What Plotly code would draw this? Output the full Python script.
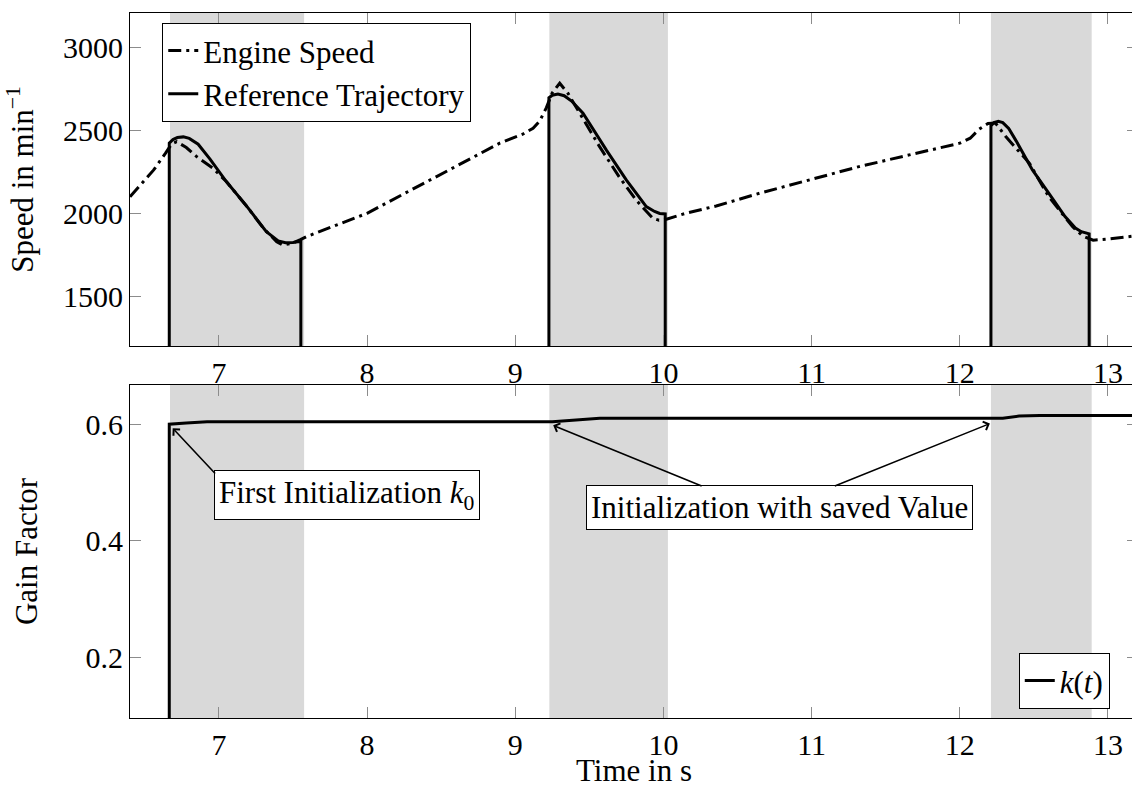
import plotly.graph_objects as go

# ---------------- data ----------------
engine_t = [6.40, 6.47, 6.56, 6.64, 6.68, 6.715, 6.78, 6.85, 6.96, 7.05, 7.19, 7.30, 7.39, 7.43,
            7.50, 7.55, 7.59, 8.00, 8.445, 8.895, 9.05, 9.12, 9.165, 9.21, 9.25, 9.30, 9.355,
            9.434, 9.569, 9.70, 9.815, 9.928, 9.97, 10.02, 10.15, 10.356, 10.65, 11.32, 12.0,
            12.07, 12.13, 12.19, 12.24, 12.31, 12.47, 12.60, 12.76, 12.83, 12.90, 13.01, 13.25]
engine_speed = [2104, 2175, 2265, 2366, 2420, 2435, 2400, 2345, 2275, 2195, 2044, 1914, 1833, 1813,
                1825, 1845, 1863, 2004, 2215, 2426, 2480, 2516, 2560, 2640, 2730, 2787, 2727,
                2607, 2405, 2225, 2084, 1974, 1962, 1968, 2004, 2048, 2125, 2285, 2426,
                2456, 2510, 2545, 2548, 2466, 2305, 2104, 1924, 1867, 1842, 1850, 1875]

ref_t = [6.665, 6.665, 6.69, 6.72, 6.76, 6.80, 6.86, 6.94, 7.05, 7.19, 7.32, 7.40, 7.45, 7.50,
         7.553, 7.553, None,
         9.227, 9.227, 9.25, 9.288, 9.33, 9.38, 9.457, 9.614, 9.749, 9.884, 9.94, 9.975, 10.012,
         10.012, None,
         12.21, 12.21, 12.23, 12.26, 12.29, 12.33, 12.38, 12.49, 12.60, 12.71, 12.78, 12.82,
         12.873, 12.873]
ref_speed = [0, 2426, 2448, 2460, 2464, 2455, 2420, 2330, 2195, 2044, 1893, 1838, 1827, 1828,
             1835, 0, None,
             0, 2700, 2715, 2722, 2712, 2680, 2607, 2386, 2205, 2044, 2015, 2003, 2000,
             0, None,
             0, 2530, 2550, 2558, 2550, 2515, 2440, 2265, 2125, 1984, 1915, 1893,
             1880, 0]

gain_t = [6.665, 6.665, 6.78, 6.92, 9.25, 9.40, 9.57, 12.29, 12.40, 12.54, 13.25]
gain_k = [0.0, 0.600, 0.602, 0.604, 0.604, 0.607, 0.610, 0.610, 0.614, 0.615, 0.615]

bands = [(6.67, 7.575), (9.23, 10.03), (12.21, 12.89)]

x_ticks = [7, 8, 9, 10, 11, 12, 13]
speed_ticks = [1500, 2000, 2500, 3000]
gain_ticks = [0.2, 0.4, 0.6]

# ---------------- style ----------------
FONT = "Liberation Serif"
FS = 30      # tick labels
FT = 31      # titles, legend, annotations
BAND = "#d9d9d9"

fig = go.Figure()
fig.add_trace(go.Scatter(x=engine_t, y=engine_speed, mode="lines", name="Engine Speed",
                         line=dict(color="black", width=3, dash="13px,5px,3px,5px"),
                         xaxis="x", yaxis="y", legend="legend"))
fig.add_trace(go.Scatter(x=ref_t, y=ref_speed, mode="lines", name="Reference Trajectory",
                         line=dict(color="black", width=3),
                         connectgaps=False, xaxis="x", yaxis="y", legend="legend"))
fig.add_trace(go.Scatter(x=gain_t, y=gain_k, mode="lines", name="<i>k</i>(<i>t</i>)",
                         line=dict(color="black", width=3),
                         xaxis="x2", yaxis="y2", legend="legend2"))

shapes = []
for a, b in bands:
    for xr_, yr_ in (("x", "y domain"), ("x2", "y2 domain")):
        shapes.append(dict(type="rect", xref=xr_, yref=yr_, x0=a, x1=b, y0=0, y1=1,
                           fillcolor=BAND, line=dict(width=0), layer="below"))

axis_common = dict(showline=True, linecolor="black", linewidth=1.2, mirror="ticks",
                   ticks="inside", ticklen=11, tickcolor="#8c8c8c", tickwidth=1,
                   showgrid=False, zeroline=False, automargin=False,
                   tickfont=dict(family=FONT, size=FS, color="black"))

xr = [6.4, 13.2025]
fig.update_layout(
    width=1138, height=789, autosize=False,
    margin=dict(l=130, r=0, t=13, b=71),
    paper_bgcolor="white", plot_bgcolor="white",
    font=dict(family=FONT, size=FT, color="black"),
    shapes=shapes,
    xaxis=dict(domain=[0, 1], anchor="y", range=xr, tickvals=x_ticks, **axis_common),
    yaxis=dict(domain=[0.5277, 1], anchor="x", range=[1205, 3210], tickvals=speed_ticks,
               title=dict(text="Speed in min<sup>−1</sup>", font=dict(family=FONT, size=FT), standoff=20),
               **axis_common),
    xaxis2=dict(domain=[0, 1], anchor="y2", range=xr, tickvals=x_ticks, **axis_common),
    yaxis2=dict(domain=[0, 0.4723], anchor="x2", range=[0.097, 0.667], tickvals=gain_ticks,
                tickformat=".1f",
                title=dict(text="Gain Factor", font=dict(family=FONT, size=FT), standoff=38),
                **axis_common),
    legend=dict(x=0.032, y=0.986, xanchor="left", yanchor="top",
                bgcolor="white", bordercolor="black", borderwidth=1,
                font=dict(family=FONT, size=FT), tracegroupgap=0),
    legend2=dict(x=0.972, y=0.013, xanchor="right", yanchor="bottom",
                 bgcolor="white", bordercolor="black", borderwidth=1,
                 font=dict(family=FONT, size=FT)),
)

# x-axis title of the lower panel
fig.add_annotation(x=0.5, y=-0.0745, xref="paper", yref="paper", text="Time in s",
                   showarrow=False, xanchor="center", yanchor="middle",
                   font=dict(family=FONT, size=FT, color="black"))

box_style = dict(bgcolor="white", bordercolor="black", borderwidth=1, borderpad=4,
                 font=dict(family=FONT, size=FT, color="black"), showarrow=False)
fig.add_annotation(x=7.867, y=0.478, xref="x2", yref="y2",
                   text="First Initialization <i>k</i><sub>0</sub>", **box_style)
fig.add_annotation(x=10.783, y=0.458, xref="x2", yref="y2",
                   text="Initialization with saved Value", **box_style)

arrow_style = dict(text="", showarrow=True, arrowhead=4, arrowsize=1.1, arrowwidth=1.6,
                   arrowcolor="black", xref="x2", yref="y2", axref="x2", ayref="y2")
fig.add_annotation(x=6.688, y=0.593, ax=6.984, ay=0.513, **arrow_style)
fig.add_annotation(x=9.256, y=0.598, ax=10.268, ay=0.493, **arrow_style)
fig.add_annotation(x=12.203, y=0.601, ax=11.146, ay=0.493, **arrow_style)

fig.write_html(
    "out.html",
    config={"displayModeBar": False},
    post_script="document.body.style.margin='0';document.body.style.overflow='hidden';"
                "document.documentElement.style.overflow='hidden';",
)
